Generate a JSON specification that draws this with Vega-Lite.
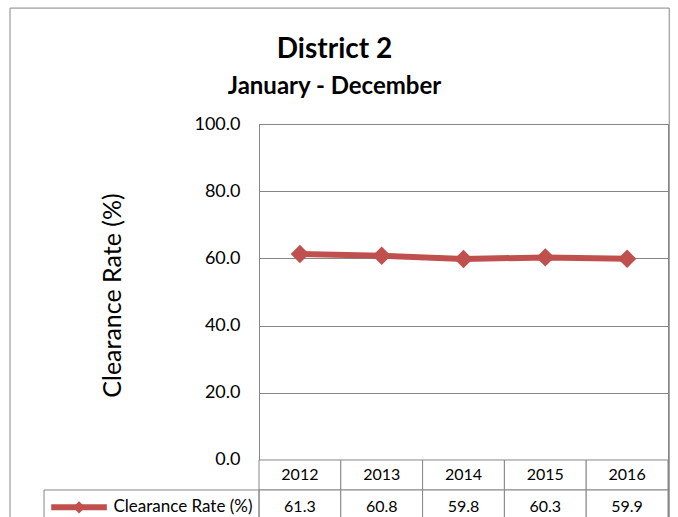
{
  "$schema": "https://vega.github.io/schema/vega-lite/v6.json",
  "autosize": "none",
  "width": 409,
  "height": 400,
  "padding": {"left": 259, "top": 124, "right": 10, "bottom": 0},
  "background": "white",
  "config": {
    "font": "Lato",
    "view": {"stroke": "#868686", "strokeWidth": 1},
    "axisY": {
      "grid": true,
      "gridColor": "#868686",
      "gridOpacity": 1,
      "domainColor": "#868686",
      "ticks": false,
      "labelFontSize": 18,
      "labelColor": "black",
      "labelPadding": 19,
      "titleFontSize": 25,
      "titleFontWeight": "normal",
      "titleColor": "black",
      "titlePadding": 68,
      "titleY": 171
    }
  },
  "title": {
    "text": "District 2",
    "subtitle": "January - December",
    "anchor": "middle",
    "frame": "group",
    "dx": -129,
    "fontSize": 28,
    "fontWeight": "bold",
    "color": "black",
    "subtitleFontSize": 24,
    "subtitleFontWeight": "bold",
    "subtitleColor": "black",
    "subtitlePadding": 11,
    "offset": -91
  },
  "datasets": {
    "rates": [
      {"series": "Clearance Rate (%)", "year": 2012, "rate": 61.3},
      {"series": "Clearance Rate (%)", "year": 2013, "rate": 60.8},
      {"series": "Clearance Rate (%)", "year": 2014, "rate": 59.8},
      {"series": "Clearance Rate (%)", "year": 2015, "rate": 60.3},
      {"series": "Clearance Rate (%)", "year": 2016, "rate": 59.9}
    ],
    "legend": [
      {"series": "Clearance Rate (%)"}
    ]
  },
  "resolve": {"scale": {"x": "independent"}},
  "layer": [
    {
      "data": {"name": "rates"},
      "layer": [
        {
          "mark": {"type": "rect", "fill": "white", "stroke": "#868686", "strokeWidth": 1},
          "encoding": {
            "x": {"field": "year", "type": "ordinal", "scale": {"type": "band", "paddingInner": 0, "paddingOuter": 0}, "axis": null},
            "y": {"datum": 0, "type": "quantitative", "scale": {"domain": [-19.05, 100], "nice": false, "zero": false}, "axis": {"values": [0, 20, 40, 60, 80, 100], "format": ".1f", "title": "Clearance Rate (%)"}},
            "y2": {"datum": -8.93}
          }
        },
        {
          "mark": {"type": "rect", "fill": "white", "stroke": "#868686", "strokeWidth": 1},
          "encoding": {
            "x": {"field": "year", "type": "ordinal", "scale": {"type": "band", "paddingInner": 0, "paddingOuter": 0}, "axis": null},
            "y": {"datum": -8.93, "type": "quantitative", "scale": {"domain": [-19.05, 100], "nice": false, "zero": false}, "axis": {"values": [0, 20, 40, 60, 80, 100], "format": ".1f", "title": "Clearance Rate (%)"}},
            "y2": {"datum": -19.05}
          }
        },
        {
          "mark": {"type": "text", "fontSize": 16, "color": "black", "baseline": "middle"},
          "encoding": {
            "x": {"field": "year", "type": "ordinal", "scale": {"type": "band", "paddingInner": 0, "paddingOuter": 0}, "axis": null},
            "y": {"datum": -4.6, "type": "quantitative", "scale": {"domain": [-19.05, 100], "nice": false, "zero": false}, "axis": {"values": [0, 20, 40, 60, 80, 100], "format": ".1f", "title": "Clearance Rate (%)"}},
            "text": {"field": "year", "type": "nominal"}
          }
        },
        {
          "mark": {"type": "text", "fontSize": 16, "color": "black", "baseline": "middle"},
          "encoding": {
            "x": {"field": "year", "type": "ordinal", "scale": {"type": "band", "paddingInner": 0, "paddingOuter": 0}, "axis": null},
            "y": {"datum": -14.1, "type": "quantitative", "scale": {"domain": [-19.05, 100], "nice": false, "zero": false}, "axis": {"values": [0, 20, 40, 60, 80, 100], "format": ".1f", "title": "Clearance Rate (%)"}},
            "text": {"field": "rate", "type": "quantitative", "format": ".1f"}
          }
        },
        {
          "mark": {"type": "line", "color": "#C0504D", "strokeWidth": 6},
          "encoding": {
            "x": {"field": "year", "type": "ordinal", "scale": {"type": "band", "paddingInner": 0, "paddingOuter": 0}, "axis": null},
            "y": {"field": "rate", "type": "quantitative", "scale": {"domain": [-19.05, 100], "nice": false, "zero": false}, "axis": {"values": [0, 20, 40, 60, 80, 100], "format": ".1f", "title": "Clearance Rate (%)"}}
          }
        },
        {
          "mark": {"type": "point", "shape": "diamond", "filled": true, "color": "#C0504D", "size": 340, "opacity": 1},
          "encoding": {
            "x": {"field": "year", "type": "ordinal", "scale": {"type": "band", "paddingInner": 0, "paddingOuter": 0}, "axis": null},
            "y": {"field": "rate", "type": "quantitative", "scale": {"domain": [-19.05, 100], "nice": false, "zero": false}, "axis": {"values": [0, 20, 40, 60, 80, 100], "format": ".1f", "title": "Clearance Rate (%)"}}
          }
        }
      ]
    },
    {
      "data": {"name": "legend"},
      "layer": [
        {
          "mark": {"type": "rect", "fill": null, "stroke": "#868686", "strokeWidth": 1},
          "encoding": {
            "x": {"datum": 2008.456, "type": "quantitative", "scale": {"domain": [2011.5, 2016.5], "nice": false, "zero": false}, "axis": null},
            "x2": {"datum": 2016.515},
            "y": {"datum": 134.5, "type": "quantitative", "scale": {"domain": [-19.05, 100], "nice": false, "zero": false}, "axis": {"values": [0, 20, 40, 60, 80, 100], "format": ".1f", "title": "Clearance Rate (%)"}},
            "y2": {"datum": -19.05}
          }
        },
        {
          "mark": {"type": "rect", "fill": null, "stroke": "#868686", "strokeWidth": 1},
          "encoding": {
            "x": {"datum": 2008.872, "type": "quantitative", "scale": {"domain": [2011.5, 2016.5], "nice": false, "zero": false}, "axis": null},
            "x2": {"datum": 2011.5},
            "y": {"datum": -8.93, "type": "quantitative", "scale": {"domain": [-19.05, 100], "nice": false, "zero": false}, "axis": {"values": [0, 20, 40, 60, 80, 100], "format": ".1f", "title": "Clearance Rate (%)"}},
            "y2": {"datum": -19.05}
          }
        },
        {
          "mark": {"type": "rule", "color": "#C0504D", "strokeWidth": 6},
          "encoding": {
            "x": {"datum": 2008.96, "type": "quantitative", "scale": {"domain": [2011.5, 2016.5], "nice": false, "zero": false}, "axis": null},
            "x2": {"datum": 2009.64},
            "y": {"datum": -14.1, "type": "quantitative", "scale": {"domain": [-19.05, 100], "nice": false, "zero": false}, "axis": {"values": [0, 20, 40, 60, 80, 100], "format": ".1f", "title": "Clearance Rate (%)"}}
          }
        },
        {
          "mark": {"type": "point", "shape": "diamond", "filled": true, "color": "#C0504D", "size": 150, "opacity": 1},
          "encoding": {
            "x": {"datum": 2009.3, "type": "quantitative", "scale": {"domain": [2011.5, 2016.5], "nice": false, "zero": false}, "axis": null},
            "y": {"datum": -14.1, "type": "quantitative", "scale": {"domain": [-19.05, 100], "nice": false, "zero": false}, "axis": {"values": [0, 20, 40, 60, 80, 100], "format": ".1f", "title": "Clearance Rate (%)"}}
          }
        },
        {
          "mark": {"type": "text", "fontSize": 17, "color": "black", "align": "right", "baseline": "middle"},
          "encoding": {
            "x": {"datum": 2011.42, "type": "quantitative", "scale": {"domain": [2011.5, 2016.5], "nice": false, "zero": false}, "axis": null},
            "y": {"datum": -14.1, "type": "quantitative", "scale": {"domain": [-19.05, 100], "nice": false, "zero": false}, "axis": {"values": [0, 20, 40, 60, 80, 100], "format": ".1f", "title": "Clearance Rate (%)"}},
            "text": {"field": "series", "type": "nominal"}
          }
        }
      ]
    }
  ]
}
